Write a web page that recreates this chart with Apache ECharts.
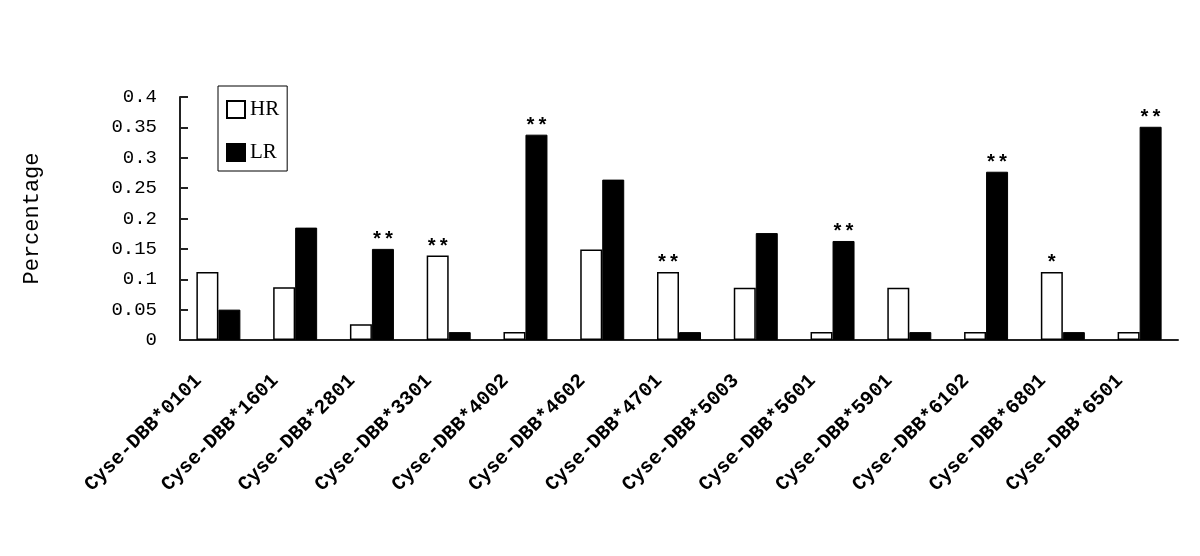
<!DOCTYPE html>
<html>
<head>
<meta charset="utf-8">
<script src="https://cdn.jsdelivr.net/npm/echarts@6/dist/echarts.min.js"></script>
<style>
html, body { margin: 0; padding: 0; background: #fff; }
#chart { width: 1200px; height: 556px; }
</style>
</head>
<body>
<div id="chart"></div>
<script>
var chart = echarts.init(document.getElementById('chart'));

// data
var categories = ['Cyse-DBB*0101', 'Cyse-DBB*1601', 'Cyse-DBB*2801', 'Cyse-DBB*3301',
    'Cyse-DBB*4002', 'Cyse-DBB*4602', 'Cyse-DBB*4701', 'Cyse-DBB*5003', 'Cyse-DBB*5601',
    'Cyse-DBB*5901', 'Cyse-DBB*6102', 'Cyse-DBB*6801', 'Cyse-DBB*6501'];
var hrValues = [0.112, 0.087, 0.026, 0.139, 0.013, 0.149, 0.112, 0.086, 0.013, 0.086, 0.013, 0.112, 0.013];
var lrValues = [0.050, 0.185, 0.150, 0.013, 0.338, 0.264, 0.013, 0.176, 0.163, 0.013, 0.277, 0.013, 0.351];
// significance marks above bars ('' = none)
var hrMarks = ['', '', '', '**', '', '', '**', '', '', '', '', '*', ''];
var lrMarks = ['', '', '**', '', '**', '', '', '', '**', '', '**', '', '**'];

var mono = 'Liberation Mono';

function withMarks(values, marks) {
    return values.map(function (v, i) {
        var item = { value: v };
        if (marks[i]) {
            item.label = {
                show: true,
                position: 'top',
                distance: -2,
                formatter: marks[i],
                fontFamily: mono,
                fontSize: 20,
                fontWeight: 'bold',
                color: '#000'
            };
        }
        return item;
    });
}

var option = {
    animation: false,
    backgroundColor: '#fff',
    grid: { left: 180, right: 22, top: 97, bottom: 216 },
    legend: {
        orient: 'vertical',
        left: 218,
        top: 86,
        padding: [13, 8, 8, 8],
        borderColor: '#000',
        borderWidth: 1,
        itemWidth: 18,
        itemHeight: 17,
        itemGap: 22,
        icon: 'rect',
        textStyle: { fontFamily: 'Liberation Serif', fontSize: 21, color: '#000' },
        data: ['HR', 'LR']
    },
    xAxis: {
        type: 'category',
        data: categories,
        axisLine: { lineStyle: { color: '#222', width: 2 } },
        axisTick: { inside: true, length: 8, lineStyle: { color: '#222', width: 2 } },
        axisLabel: {
            rotate: 45,
            interval: 0,
            margin: 18,
            padding: [0, 28, 0, 0],
            fontFamily: mono,
            fontSize: 20,
            fontWeight: 'bold',
            color: '#000'
        }
    },
    yAxis: {
        type: 'value',
        min: 0,
        max: 0.4,
        interval: 0.05,
        name: 'Percentage',
        nameLocation: 'middle',
        nameGap: 137,
        nameRotate: 90,
        nameTextStyle: { fontFamily: mono, fontSize: 22, color: '#000' },
        axisLine: { show: true, lineStyle: { color: '#222', width: 2 } },
        axisTick: { show: true, inside: true, length: 8, lineStyle: { color: '#222', width: 2 } },
        splitLine: { show: false },
        axisLabel: { margin: 23, fontFamily: mono, fontSize: 19, color: '#000' }
    },
    series: [
        {
            name: 'HR',
            type: 'bar',
            barWidth: 22,
            barGap: '0%',
            itemStyle: { color: '#fff', borderColor: '#000', borderWidth: 1.5 },
            data: withMarks(hrValues, hrMarks)
        },
        {
            name: 'LR',
            type: 'bar',
            barWidth: 22,
            barGap: '0%',
            itemStyle: { color: '#000', borderColor: '#000', borderWidth: 1 },
            data: withMarks(lrValues, lrMarks)
        }
    ]
};

chart.setOption(option);
</script>
</body>
</html>
